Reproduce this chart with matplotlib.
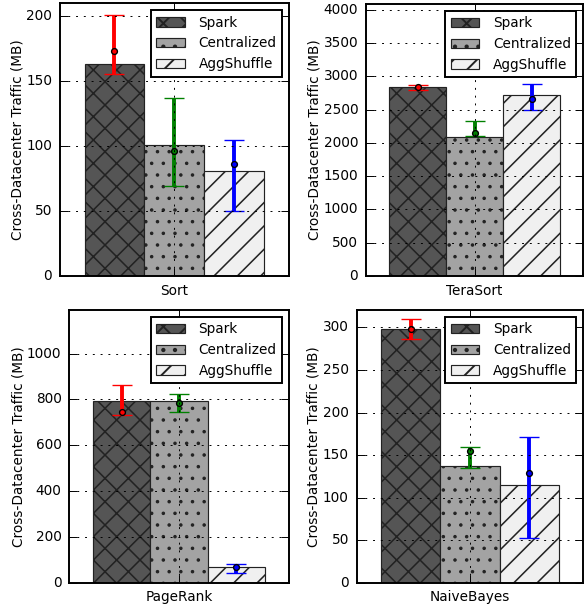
import matplotlib
matplotlib.use('Agg')
import matplotlib.pyplot as plt
from matplotlib.ticker import MultipleLocator

apps = ['Sort', 'TeraSort', 'PageRank', 'NaiveBayes']
schemes = ['Spark', 'Centralized', 'AggShuffle']

# bar heights (MB)
spark_traffic = [163, 2838, 793, 298]
centralized_traffic = [101, 2090, 791, 137]
aggshuffle_traffic = [80.5, 2725, 68, 115]

# error bar: mean marker, low and high ends
spark_mean = [173, 2838, 743, 298]
centralized_mean = [96, 2145, 783, 155]
aggshuffle_mean = [86, 2665, 70, 129]

spark_low = [155.5, 2800, 730, 286]
spark_high = [201, 2875, 864, 310]
centralized_low = [69, 2105, 745, 134.5]
centralized_high = [137, 2336, 825, 160]
aggshuffle_low = [50, 2490, 44, 53]
aggshuffle_high = [105, 2882, 82, 171]

y_top = [210, 4090, 1190, 320.5]
y_step = [50, 500, 200, 50]

plt.style.use('classic')
plt.rcParams['font.family'] = 'DejaVu Sans'
plt.rcParams['font.size'] = 7
plt.rcParams['figure.facecolor'] = 'white'
plt.rcParams['savefig.facecolor'] = 'white'

DPI = 140
fig = plt.figure(figsize=(584 / DPI, 605 / DPI), dpi=DPI)

positions = [
    [60 / 584, 1 - 276 / 605, 228.7 / 584, 272.7 / 605],
    [366 / 584, 1 - 276 / 605, 217.3 / 584, 272 / 605],
    [69.3 / 584, 1 - 582.7 / 605, 219.4 / 584, 272.7 / 605],
    [356.7 / 584, 1 - 582.7 / 605, 226.6 / 584, 272.7 / 605],
]

face_colors = ['#555555', '#a3a3a3', '#f0f0f0']
hatches = ['xx', '..', '//']
hatch_widths = [0.8, 0.6, 0.8]
err_colors = ['r', 'g', 'b']

heights = [spark_traffic, centralized_traffic, aggshuffle_traffic]
means = [spark_mean, centralized_mean, aggshuffle_mean]
lows = [spark_low, centralized_low, aggshuffle_low]
highs = [spark_high, centralized_high, aggshuffle_high]

for i, app in enumerate(apps):
    ax = fig.add_axes(positions[i])
    for j, name in enumerate(schemes):
        x = j - 1
        with plt.rc_context({'hatch.linewidth': hatch_widths[j]}):
            ax.bar(x, heights[j][i], width=1.0, color=face_colors[j],
                   edgecolor='#222222', linewidth=0.6, hatch=hatches[j],
                   label=name)
        m = means[j][i]
        ax.errorbar(x, m, yerr=[[m - lows[j][i]], [highs[j][i] - m]],
                    fmt='o', color=err_colors[j], mfc=err_colors[j],
                    mec='black', mew=0.7, ms=3.0, elinewidth=2,
                    capsize=5, capthick=2)
    ax.set_xlim(-1.91, 1.91)
    ax.set_ylim(0, y_top[i])
    ax.yaxis.set_major_locator(MultipleLocator(y_step[i]))
    ax.set_xticks([0])
    ax.set_xticklabels([app])
    ax.set_ylabel('Cross-Datacenter Traffic (MB)', labelpad=1.0)
    ax.grid(True)
    ax.legend(loc='upper right', fontsize=7, fancybox=False,
              handlelength=2.1, handletextpad=1.0)

fig.savefig('out.png', dpi=DPI)
